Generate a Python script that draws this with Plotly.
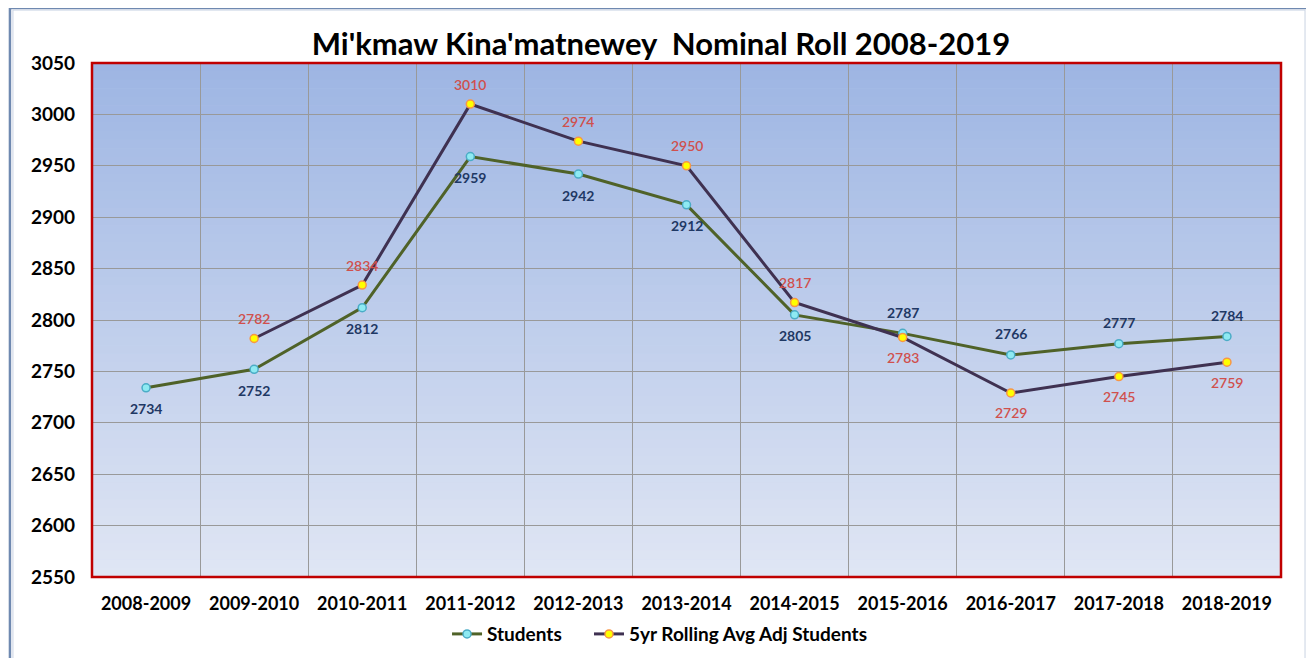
"""Mi'kmaw Kina'matnewey nominal roll, students vs 5yr rolling average."""

import plotly.graph_objects as go

years = [
    "2008-2009", "2009-2010", "2010-2011", "2011-2012", "2012-2013", "2013-2014",
    "2014-2015", "2015-2016", "2016-2017", "2017-2018", "2018-2019",
]
students = [2734, 2752, 2812, 2959, 2942, 2912, 2805, 2787, 2766, 2777, 2784]
rolling_avg = [None, 2782, 2834, 3010, 2974, 2950, 2817, 2783, 2729, 2745, 2759]

# +1 = label above the point, -1 = below
students_side = [-1] * 7 + [1] * 4
rolling_side = [1] * 7 + [-1] * 4

FONT = "Lato"

fig = go.Figure()
fig.add_trace(
    go.Scatter(
        x=years,
        y=students,
        name="Students",
        mode="lines+markers",
        line=dict(color="#4F6228", width=3),
        marker=dict(size=8, color="#8EEAF2", line=dict(color="#4BACC6", width=1.5)),
        legend="legend",
    )
)
fig.add_trace(
    go.Scatter(
        x=years,
        y=rolling_avg,
        name="5yr Rolling Avg Adj Students",
        mode="lines+markers",
        line=dict(color="#3F3151", width=3),
        marker=dict(size=8, color="#FFFF00", line=dict(color="#F79646", width=1.5)),
        legend="legend2",
    )
)

# data labels
for x, v, side in zip(years, students, students_side):
    fig.add_annotation(
        x=x, y=v, text=str(v), showarrow=False, yshift=21 * side,
        font=dict(family=FONT, size=14, color="#1F3864", weight="bold"),
    )
for x, v, side in zip(years, rolling_avg, rolling_side):
    if v is None:
        continue
    fig.add_annotation(
        x=x, y=v, text=str(v), showarrow=False, yshift=20 * side,
        font=dict(family=FONT, size=14, color="#D0504D", weight=600),
    )

# vertical gradient behind the gridlines
top, bottom = (157, 181, 227), (224, 230, 244)
n = 60
for i in range(n):
    t = (i + 0.5) / n
    c = tuple(round(top[k] + (bottom[k] - top[k]) * t) for k in range(3))
    fig.add_shape(
        type="rect", xref="paper", yref="paper",
        x0=0, x1=1, y0=1 - (i + 1) / n, y1=1 - i / n + 0.001,
        fillcolor="rgb(%d,%d,%d)" % c, line_width=0, layer="below",
    )

# red plot frame
fig.add_shape(
    type="rect", xref="paper", yref="paper", x0=0, x1=1, y0=0, y1=1,
    line=dict(color="#C00000", width=2.5), layer="above",
)
# outer chart frame
fig.add_shape(
    type="rect", xref="paper", yref="paper",
    x0=-0.069, x1=1.0227, y0=-0.2, y1=1.107,
    line=dict(color="#6F89B0", width=2.5),
)
fig.add_shape(
    type="rect", xref="paper", yref="paper",
    x0=-0.0665, x1=1.0202, y0=-0.2, y1=1.103,
    line=dict(color="#C9D3E3", width=1),
)

fig.update_xaxes(
    type="category",
    tickson="boundaries",
    showgrid=True,
    gridcolor="#999999",
    gridwidth=1,
    ticks="",
    tickfont=dict(family=FONT, size=18, color="#000000", weight="bold"),
    ticklabelstandoff=14,
    range=[-0.5, 10.5],
)
fig.update_yaxes(
    range=[2550, 3050],
    dtick=50,
    showgrid=True,
    gridcolor="#999999",
    gridwidth=1,
    zeroline=False,
    tickfont=dict(family=FONT, size=19, color="#000000", weight="bold"),
    ticklabelstandoff=16,
)
legend_style = dict(
    orientation="h",
    y=-0.111, yanchor="middle", xanchor="left",
    font=dict(family=FONT, size=19, color="#000000", weight="bold"),
    bgcolor="rgba(0,0,0,0)",
    itemwidth=30,
)
# page body adds an 8px offset, so the figure is 8px smaller and margins shifted
fig.update_layout(
    width=1306,
    height=650,
    paper_bgcolor="#FFFFFF",
    plot_bgcolor="#C8D4EE",
    margin=dict(l=84, r=33, t=55, b=81, autoexpand=False),
    title=dict(
        text="Mi'kmaw Kina'matnewey  Nominal Roll 2008-2019",
        x=0.5, xanchor="center", y=0.944, yanchor="middle",
        font=dict(family=FONT, size=31, color="#000000", weight="bold"),
    ),
    legend=dict(x=0.2986, **legend_style),
    legend2=dict(x=0.418, **legend_style),
    showlegend=True,
)

fig.write_html("out.html")
